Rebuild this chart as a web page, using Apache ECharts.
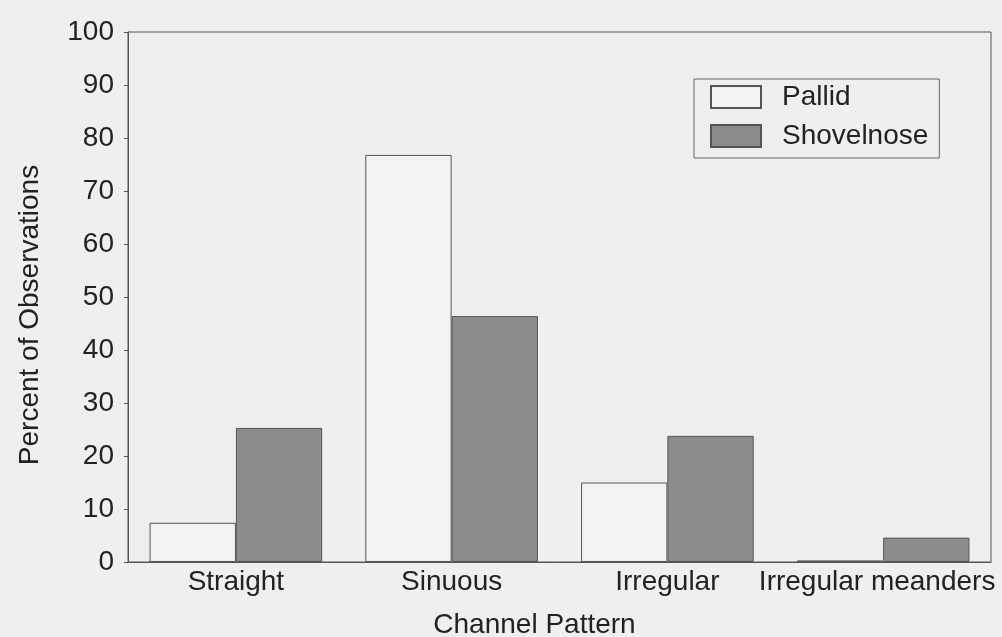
<!DOCTYPE html>
<html>
<head>
<meta charset="utf-8">
<script src="https://cdn.jsdelivr.net/npm/echarts@6/dist/echarts.min.js"></script>
<style>
  html, body { margin: 0; padding: 0; background: #efefef; }
  #main { width: 1002px; height: 637px; }
</style>
</head>
<body>
<div id="main"></div>
<script>
var categories = ['Straight', 'Sinuous', 'Irregular', 'Irregular meanders'];
var pallid = [7.4, 76.8, 15.0, 0.3];
var shovelnose = [25.3, 46.4, 23.8, 4.6];

var myChart = echarts.init(document.getElementById('main'));

var font = 'Liberation Sans, Arial, sans-serif';

// last label sits a bit left so it fits inside the page
var catData = categories.map(function (c, i) {
    if (i === categories.length - 1) {
        return { value: c, textStyle: { padding: [0, 12, 0, 0] } };
    }
    return c;
});

var option = {
    backgroundColor: '#efefef',
    animation: false,
    textStyle: { fontFamily: font },
    grid: {
        left: 128,
        right: 11,
        top: 32,
        bottom: 75,
        outerBoundsMode: 'none',
        containLabel: false,
        show: true,
        borderColor: '#555',
        borderWidth: 1
    },
    legend: {
        orient: 'vertical',
        left: 694,
        top: 79,
        padding: [4, 11, 8, 16],
        backgroundColor: '#efefef',
        borderColor: '#666',
        borderWidth: 1,
        icon: 'rect',
        itemWidth: 50,
        itemHeight: 22,
        itemGap: 11,
        textStyle: { fontSize: 28, color: '#222', fontFamily: font, padding: [0, 0, 0, 16] },
        data: ['Pallid', 'Shovelnose']
    },
    xAxis: {
        type: 'category',
        data: catData,
        name: 'Channel Pattern',
        nameLocation: 'middle',
        nameGap: 49,
        nameTextStyle: { fontSize: 28, color: '#222', padding: [0, 50, 0, 0] },
        axisLine: { lineStyle: { color: '#555' } },
        axisTick: { show: false },
        axisLabel: { interval: 0, fontSize: 28, color: '#222', margin: 6 }
    },
    yAxis: {
        type: 'value',
        min: 0,
        max: 100,
        interval: 10,
        name: 'Percent of Observations',
        nameLocation: 'middle',
        nameGap: 84,
        nameTextStyle: { fontSize: 28, color: '#222', padding: [0, 36, 0, 0] },
        axisLine: { show: true, lineStyle: { color: '#555' } },
        axisTick: { show: true, length: 4, lineStyle: { color: '#555' } },
        axisLabel: { fontSize: 28, color: '#222', margin: 14 },
        splitLine: { show: false }
    },
    series: [
        {
            name: 'Pallid',
            type: 'bar',
            data: pallid,
            barGap: '0%',
            barCategoryGap: '20%',
            itemStyle: { color: '#f3f3f3', borderColor: '#555', borderWidth: 1 }
        },
        {
            name: 'Shovelnose',
            type: 'bar',
            data: shovelnose,
            itemStyle: { color: '#8c8c8c', borderColor: '#555', borderWidth: 1 }
        }
    ]
};
myChart.setOption(option);
</script>
</body>
</html>
